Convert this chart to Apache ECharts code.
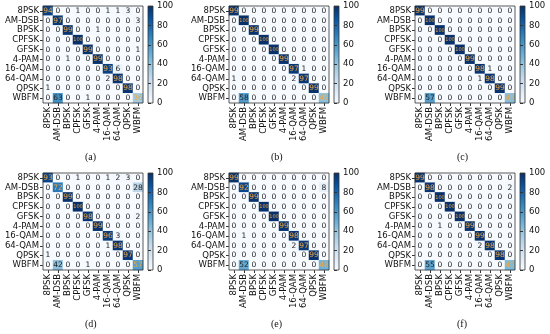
<!DOCTYPE html>
<html><head><meta charset="utf-8">
<script src="https://cdn.jsdelivr.net/npm/echarts@6/dist/echarts.min.js"></script>
<style>html,body{margin:0;padding:0;background:#fff}#c{width:550px;height:334px}</style>
</head><body><div id="c"></div>
<script>
const classes = ['8PSK','AM-DSB','BPSK','CPFSK','GFSK','4-PAM','16-QAM','64-QAM','QPSK','WBFM'];
const captions = ['(a)','(b)','(c)','(d)','(e)','(f)'];
const colorbarTicks = [0,20,40,60,80,100];

const matA = [
 [94,0,0,1,0,0,1,1,3,0],
 [0,97,0,0,0,0,0,0,0,3],
 [0,0,99,0,0,1,0,0,0,0],
 [0,0,0,100,0,0,0,0,0,0],
 [0,0,0,0,99,0,0,0,0,1],
 [0,0,1,0,0,99,0,0,0,0],
 [0,0,0,0,0,0,93,6,0,0],
 [0,0,0,0,0,0,2,98,0,0],
 [1,0,0,0,0,0,0,0,98,0],
 [0,63,0,0,1,0,0,0,0,36]];
const matB = [
 [99,0,0,0,0,0,0,0,0,0],
 [0,100,0,0,0,0,0,0,0,0],
 [0,0,99,0,0,0,0,0,0,0],
 [0,0,0,100,0,0,0,0,0,0],
 [0,0,0,0,100,0,0,0,0,0],
 [0,0,0,0,0,99,0,0,0,0],
 [0,0,0,0,0,0,97,1,0,0],
 [1,0,0,0,0,0,2,97,0,0],
 [0,0,0,0,0,0,0,0,99,0],
 [0,58,0,0,0,0,0,0,0,42]];
const matC = [
 [99,0,0,0,0,0,0,0,0,0],
 [0,100,0,0,0,0,0,0,0,0],
 [0,0,100,0,0,0,0,0,0,0],
 [0,0,0,100,0,0,0,0,0,0],
 [0,0,0,0,100,0,0,0,0,0],
 [0,0,0,0,0,99,0,0,0,0],
 [0,0,0,0,0,0,98,1,0,0],
 [0,0,0,0,0,0,1,98,0,0],
 [0,0,0,0,0,0,0,0,99,0],
 [0,57,0,0,0,0,0,0,0,43]];
const matD = [
 [93,0,0,1,0,0,1,2,3,0],
 [0,72,0,0,0,0,0,0,0,28],
 [0,0,99,0,0,0,0,0,0,0],
 [0,0,0,100,0,0,0,0,0,0],
 [0,0,0,0,98,0,0,0,0,2],
 [0,0,0,0,0,99,0,0,0,0],
 [0,0,0,0,0,0,96,3,0,0],
 [0,0,0,0,0,0,1,98,0,0],
 [1,0,0,0,0,0,0,0,97,0],
 [0,42,0,0,1,0,0,0,0,57]];
const matE = [
 [99,0,0,0,0,0,0,0,0,0],
 [0,92,0,0,0,0,0,0,0,8],
 [0,0,99,0,0,0,0,0,0,0],
 [0,0,0,100,0,0,0,0,0,0],
 [0,0,0,0,100,0,0,0,0,0],
 [0,0,0,0,0,99,0,0,0,0],
 [0,1,0,0,0,0,98,0,0,0],
 [0,0,0,0,0,0,2,97,0,0],
 [0,0,0,0,0,0,0,0,99,0],
 [0,52,0,0,0,0,0,0,0,48]];
const matF = [
 [99,0,0,0,0,0,0,0,0,0],
 [0,98,0,0,0,0,0,0,0,2],
 [0,0,100,0,0,0,0,0,0,0],
 [0,0,0,100,0,0,0,0,0,0],
 [0,0,0,0,100,0,0,0,0,0],
 [0,0,1,0,0,99,0,0,0,0],
 [0,0,0,0,0,0,99,0,0,0],
 [0,0,0,0,0,0,2,98,0,0],
 [0,0,0,0,0,0,0,0,98,0],
 [0,55,0,0,0,0,0,0,0,45]];
const matrices = [matA, matB, matC, matD, matE, matF];

const blues = ['#f7fbff','#deebf7','#c6dbef','#9ecae1','#6baed6','#4292c6','#2171b5','#08519c','#08306b'];
const font = 'DejaVu Sans';
const panelX = [0, 186, 372];
const panelY = [6, 173];
const MW = 100, MH = 97;

const grids = [], xAxes = [], yAxes = [], series = [], graphics = [];
matrices.forEach((m, p) => {
  const ox = panelX[p % 3] + 43, oy = panelY[Math.floor(p / 3)];
  // matrix grid
  grids.push({left: ox, top: oy, width: MW, height: MH, show: true, borderColor: '#333', borderWidth: 0.8, backgroundColor: 'transparent', z: 3});
  const gi = grids.length - 1;
  xAxes.push({type: 'category', gridIndex: gi, data: classes, position: 'bottom',
    axisLine: {show: false}, axisTick: {show: true, length: 3, lineStyle: {color: '#333'}, alignWithLabel: true},
    splitLine: {show: false},
    axisLabel: {rotate: 90, interval: 0, fontSize: 8.5, fontFamily: font, color: '#111', margin: 4}});
  yAxes.push({type: 'category', gridIndex: gi, data: classes, inverse: true,
    axisLine: {show: false}, axisTick: {show: true, length: 3, lineStyle: {color: '#333'}, alignWithLabel: true},
    splitLine: {show: false},
    axisLabel: {interval: 0, fontSize: 8.5, fontFamily: font, color: '#111', margin: 4}});
  const data = [];
  m.forEach((row, r) => row.forEach((v, c) => {
    data.push({value: [c, r, v], label: {
      fontSize: v === 100 ? 5 : 7.5,
      color: r === c ? '#e8a84a' : '#222'}});
  }));
  series.push({type: 'heatmap', xAxisIndex: gi, yAxisIndex: gi, data: data,
    label: {show: true, fontFamily: font, formatter: (q) => q.value[2]},
    itemStyle: {borderWidth: 0}, emphasis: {disabled: true}});
  // colorbar grid
  grids.push({left: ox + MW + 5, top: oy, width: 5, height: MH, show: true, borderColor: '#333', borderWidth: 0.8,
    backgroundColor: new echarts.graphic.LinearGradient(0, 0, 0, 1,
      blues.slice().reverse().map((c, i) => ({offset: i / (blues.length - 1), color: c})))});
  const ci = grids.length - 1;
  xAxes.push({type: 'value', gridIndex: ci, show: false, min: 0, max: 1});
  yAxes.push({type: 'value', gridIndex: ci, position: 'right', min: 0, max: 100, interval: 20,
    axisLine: {show: false}, splitLine: {show: false},
    axisTick: {show: true, length: 3, lineStyle: {color: '#333'}},
    axisLabel: {fontSize: 8.5, fontFamily: font, color: '#111', margin: 4,
      formatter: (v) => colorbarTicks.includes(v) ? String(v) : ''}});
  graphics.push({type: 'text', left: panelX[p % 3] + 85, top: oy + 146,
    style: {text: captions[p], font: '10px "Liberation Serif"', fill: '#111'}});
});

const chart = echarts.init(document.getElementById('c'), null, {renderer: 'canvas'});
chart.setOption({
  animation: false,
  backgroundColor: '#fff',
  grid: grids, xAxis: xAxes, yAxis: yAxes, series: series,
  visualMap: {show: false, type: 'continuous', min: 0, max: 100, dimension: 2,
    seriesIndex: series.map((s, i) => i), inRange: {color: blues}},
  graphic: graphics
});
</script></body></html>
